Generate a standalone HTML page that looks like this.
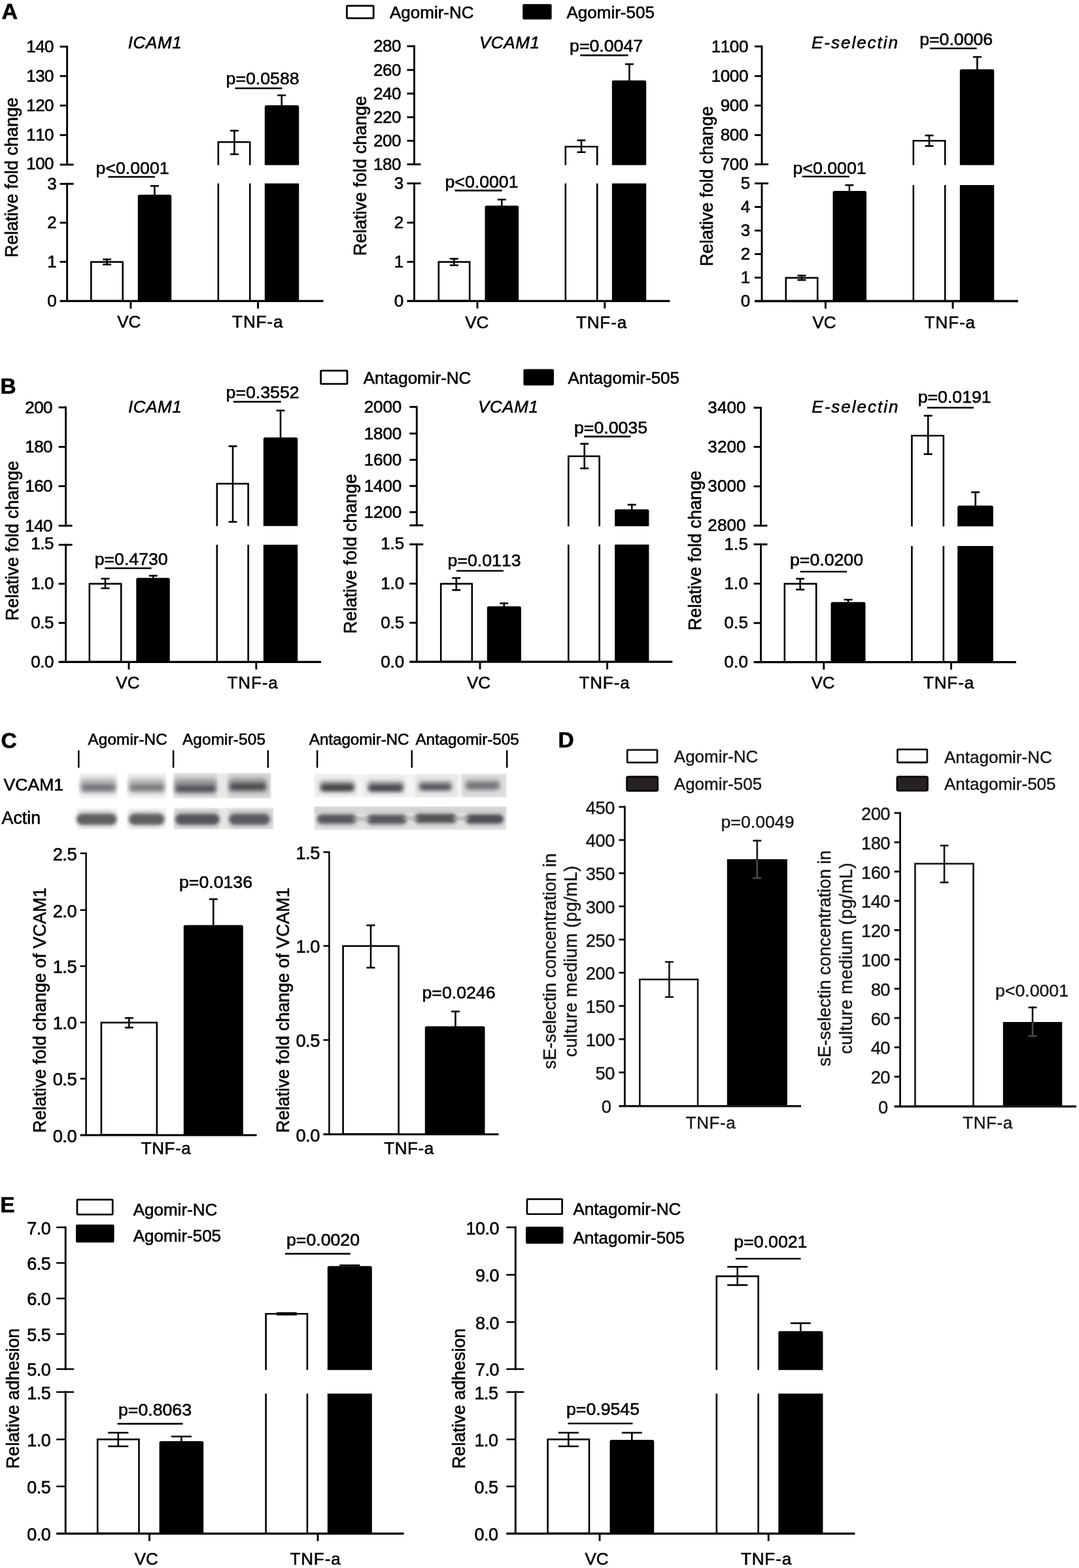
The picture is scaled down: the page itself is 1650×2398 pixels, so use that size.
<!DOCTYPE html>
<html lang="en"><head><meta charset="utf-8"><title>Figure</title>
<style>
html,body{margin:0;padding:0;background:#fff}
body{width:1650px;height:2398px;overflow:hidden}
svg{display:block;font-family:"Liberation Sans",sans-serif;fill:#000}
text{stroke:#000;stroke-width:.6px;font-kerning:none}
text.g{fill:#151515;stroke:#151515;stroke-width:.4px}
</style></head><body>
<svg width="1650" height="2398" viewBox="0 0 1650 2398">
<rect width="1650" height="2398" fill="#fff"/>
<text x="2.5" y="29.3" font-size="34" font-weight="bold">A</text>
<text x="0.5" y="601.5" font-size="33.5" font-weight="bold">B</text>
<text x="1.6" y="1143.6" font-size="33.5" font-weight="bold">C</text>
<text x="853.6" y="1142.5" font-size="33.5" font-weight="bold">D</text>
<text x="0.3" y="1854" font-size="33.5" font-weight="bold">E</text>
<rect x="530.4" y="8.8" width="40.8" height="19" fill="#fff" stroke="#000" stroke-width="2.8" rx="1"/>
<text x="596" y="27.5" font-size="26">Agomir-NC</text>
<rect x="799.2" y="6.2" width="44.4" height="23.6" fill="#000" rx="2"/>
<text x="866.5" y="27.5" font-size="26">Agomir-505</text>
<rect x="139.3" y="400.6" width="48.4" height="59.5" fill="#fff" stroke="#000" stroke-width="2.6"/>
<path d="M210.8 460.4V300.4Q210.8 297.8 213.4 297.8H259.6Q262.2 297.8 262.2 300.4V460.4Z" fill="#000"/>
<path d="M333.8 252.5V217.3H382.2V252.5" fill="none" stroke="#000" stroke-width="2.6"/>
<line x1="333.8" y1="280.5" x2="333.8" y2="460.4" stroke="#000" stroke-width="2.6"/>
<line x1="382.2" y1="280.5" x2="382.2" y2="460.4" stroke="#000" stroke-width="2.6"/>
<path d="M404.8 252.5V163.6Q404.8 161 407.4 161H454.6Q457.2 161 457.2 163.6V252.5Z" fill="#000"/>
<rect x="404.8" y="280.5" width="52.4" height="179.9" fill="#000"/>
<line x1="163.6" y1="395.6" x2="163.6" y2="405.6" stroke="#000" stroke-width="2.6"/>
<line x1="157.1" y1="396.7" x2="170.1" y2="396.7" stroke="#000" stroke-width="2.6"/>
<line x1="157.1" y1="404.5" x2="170.1" y2="404.5" stroke="#000" stroke-width="2.6"/>
<line x1="236.4" y1="283.3" x2="236.4" y2="300" stroke="#000" stroke-width="2.6"/>
<line x1="229.9" y1="284.4" x2="242.9" y2="284.4" stroke="#000" stroke-width="2.6"/>
<line x1="358.4" y1="198.8" x2="358.4" y2="237" stroke="#000" stroke-width="2.6"/>
<line x1="351.9" y1="199.9" x2="364.9" y2="199.9" stroke="#000" stroke-width="2.6"/>
<line x1="351.9" y1="235.9" x2="364.9" y2="235.9" stroke="#000" stroke-width="2.6"/>
<line x1="430.7" y1="144.7" x2="430.7" y2="162" stroke="#000" stroke-width="2.6"/>
<line x1="424.2" y1="145.8" x2="437.2" y2="145.8" stroke="#000" stroke-width="2.6"/>
<line x1="102.6" y1="69.85" x2="102.6" y2="253.25" stroke="#000" stroke-width="2.9"/>
<line x1="102.6" y1="279.75" x2="102.6" y2="461.85" stroke="#000" stroke-width="2.9"/>
<line x1="91.6" y1="460.4" x2="494.5" y2="460.4" stroke="#000" stroke-width="3.3"/>
<line x1="91.6" y1="71.3" x2="102.6" y2="71.3" stroke="#000" stroke-width="2.9"/>
<text x="82.1" y="79.81" font-size="26" text-anchor="end" letter-spacing="-0.5">140</text>
<line x1="91.6" y1="116.3" x2="102.6" y2="116.3" stroke="#000" stroke-width="2.9"/>
<text x="82.1" y="124.81" font-size="26" text-anchor="end" letter-spacing="-0.5">130</text>
<line x1="91.6" y1="161.4" x2="102.6" y2="161.4" stroke="#000" stroke-width="2.9"/>
<text x="82.1" y="169.91" font-size="26" text-anchor="end" letter-spacing="-0.5">120</text>
<line x1="91.6" y1="206.6" x2="102.6" y2="206.6" stroke="#000" stroke-width="2.9"/>
<text x="82.1" y="215.11" font-size="26" text-anchor="end" letter-spacing="-0.5">110</text>
<line x1="91.6" y1="251.8" x2="112.6" y2="251.8" stroke="#000" stroke-width="2.9"/>
<text x="82.1" y="258.81" font-size="26" text-anchor="end" letter-spacing="-0.5">100</text>
<line x1="91.6" y1="281.2" x2="112.6" y2="281.2" stroke="#000" stroke-width="2.9"/>
<text x="86.1" y="289.71" font-size="26" text-anchor="end" letter-spacing="-0.5">3</text>
<line x1="91.6" y1="340.6" x2="102.6" y2="340.6" stroke="#000" stroke-width="2.9"/>
<text x="86.1" y="349.11" font-size="26" text-anchor="end" letter-spacing="-0.5">2</text>
<line x1="91.6" y1="400.4" x2="102.6" y2="400.4" stroke="#000" stroke-width="2.9"/>
<text x="86.1" y="408.91" font-size="26" text-anchor="end" letter-spacing="-0.5">1</text>
<text x="86.1" y="468.91" font-size="26" text-anchor="end" letter-spacing="-0.5">0</text>
<line x1="199.9" y1="460.4" x2="199.9" y2="471.9" stroke="#000" stroke-width="2.9"/>
<line x1="394.5" y1="460.4" x2="394.5" y2="471.9" stroke="#000" stroke-width="2.9"/>
<text x="202.6" y="266.2" font-size="26.7" text-anchor="middle">p&lt;0.0001</text>
<line x1="165.4" y1="270.5" x2="237" y2="270.5" stroke="#000" stroke-width="2.6"/>
<text x="401.6" y="129.2" font-size="26.7" text-anchor="middle">p=0.0588</text>
<line x1="359.4" y1="135" x2="431.4" y2="135" stroke="#000" stroke-width="2.6"/>
<text x="197.3" y="501.3" font-size="26" text-anchor="middle">VC</text>
<text x="394.2" y="501.3" font-size="26" text-anchor="middle" letter-spacing="0.9">TNF-a</text>
<text x="237" y="73.7" font-size="26" text-anchor="middle" font-style="italic" letter-spacing="0.6">ICAM1</text>
<text transform="translate(26.8 271.4) rotate(-90)" font-size="27" text-anchor="middle">Relative fold change</text>
<rect x="670.8" y="400.6" width="47.4" height="59.4" fill="#fff" stroke="#000" stroke-width="2.6"/>
<path d="M741.5 460.3V317.1Q741.5 314.5 744.1 314.5H790.6Q793.2 314.5 793.2 317.1V460.3Z" fill="#000"/>
<path d="M864.8 252.5V224.3H913.2V252.5" fill="none" stroke="#000" stroke-width="2.6"/>
<line x1="864.8" y1="280.5" x2="864.8" y2="460.3" stroke="#000" stroke-width="2.6"/>
<line x1="913.2" y1="280.5" x2="913.2" y2="460.3" stroke="#000" stroke-width="2.6"/>
<path d="M935.8 252.5V125.6Q935.8 123 938.4 123H985.6Q988.2 123 988.2 125.6V252.5Z" fill="#000"/>
<rect x="935.8" y="280.5" width="52.4" height="179.8" fill="#000"/>
<line x1="694.4" y1="394.7" x2="694.4" y2="406.8" stroke="#000" stroke-width="2.6"/>
<line x1="687.9" y1="395.8" x2="700.9" y2="395.8" stroke="#000" stroke-width="2.6"/>
<line x1="687.9" y1="405.7" x2="700.9" y2="405.7" stroke="#000" stroke-width="2.6"/>
<line x1="767.3" y1="304.1" x2="767.3" y2="317" stroke="#000" stroke-width="2.6"/>
<line x1="760.8" y1="305.2" x2="773.8" y2="305.2" stroke="#000" stroke-width="2.6"/>
<line x1="889" y1="213.5" x2="889" y2="233.8" stroke="#000" stroke-width="2.6"/>
<line x1="882.5" y1="214.6" x2="895.5" y2="214.6" stroke="#000" stroke-width="2.6"/>
<line x1="882.5" y1="232.7" x2="895.5" y2="232.7" stroke="#000" stroke-width="2.6"/>
<line x1="962.4" y1="97" x2="962.4" y2="124" stroke="#000" stroke-width="2.6"/>
<line x1="955.9" y1="98.1" x2="968.9" y2="98.1" stroke="#000" stroke-width="2.6"/>
<line x1="633.5" y1="69.25" x2="633.5" y2="252.75" stroke="#000" stroke-width="2.9"/>
<line x1="633.5" y1="279.05" x2="633.5" y2="461.75" stroke="#000" stroke-width="2.9"/>
<line x1="622.5" y1="460.3" x2="1024.4" y2="460.3" stroke="#000" stroke-width="3.3"/>
<line x1="622.5" y1="70.7" x2="633.5" y2="70.7" stroke="#000" stroke-width="2.9"/>
<text x="613" y="79.21" font-size="26" text-anchor="end" letter-spacing="-0.5">280</text>
<line x1="622.5" y1="107" x2="633.5" y2="107" stroke="#000" stroke-width="2.9"/>
<text x="613" y="115.51" font-size="26" text-anchor="end" letter-spacing="-0.5">260</text>
<line x1="622.5" y1="143.1" x2="633.5" y2="143.1" stroke="#000" stroke-width="2.9"/>
<text x="613" y="151.61" font-size="26" text-anchor="end" letter-spacing="-0.5">240</text>
<line x1="622.5" y1="179.2" x2="633.5" y2="179.2" stroke="#000" stroke-width="2.9"/>
<text x="613" y="187.71" font-size="26" text-anchor="end" letter-spacing="-0.5">220</text>
<line x1="622.5" y1="215.3" x2="633.5" y2="215.3" stroke="#000" stroke-width="2.9"/>
<text x="613" y="223.81" font-size="26" text-anchor="end" letter-spacing="-0.5">200</text>
<line x1="622.5" y1="251.3" x2="643.5" y2="251.3" stroke="#000" stroke-width="2.9"/>
<text x="613" y="259.81" font-size="26" text-anchor="end" letter-spacing="-0.5">180</text>
<line x1="622.5" y1="280.5" x2="643.5" y2="280.5" stroke="#000" stroke-width="2.9"/>
<text x="616.7" y="289.01" font-size="26" text-anchor="end" letter-spacing="-0.5">3</text>
<line x1="622.5" y1="340.5" x2="633.5" y2="340.5" stroke="#000" stroke-width="2.9"/>
<text x="616.7" y="349.01" font-size="26" text-anchor="end" letter-spacing="-0.5">2</text>
<line x1="622.5" y1="400.4" x2="633.5" y2="400.4" stroke="#000" stroke-width="2.9"/>
<text x="616.7" y="408.91" font-size="26" text-anchor="end" letter-spacing="-0.5">1</text>
<text x="616.7" y="468.81" font-size="26" text-anchor="end" letter-spacing="-0.5">0</text>
<line x1="730" y1="460.3" x2="730" y2="471.8" stroke="#000" stroke-width="2.9"/>
<line x1="924.8" y1="460.3" x2="924.8" y2="471.8" stroke="#000" stroke-width="2.9"/>
<text x="736.5" y="286.8" font-size="26.7" text-anchor="middle">p&lt;0.0001</text>
<line x1="695.5" y1="291.4" x2="767.7" y2="291.4" stroke="#000" stroke-width="2.6"/>
<text x="927.1" y="79" font-size="26.7" text-anchor="middle">p=0.0047</text>
<line x1="887.2" y1="84.6" x2="960.5" y2="84.6" stroke="#000" stroke-width="2.6"/>
<text x="729.3" y="501.9" font-size="26" text-anchor="middle">VC</text>
<text x="920" y="501.9" font-size="26" text-anchor="middle" letter-spacing="0.9">TNF-a</text>
<text x="779.2" y="74" font-size="26" text-anchor="middle" font-style="italic" letter-spacing="0.6">VCAM1</text>
<text transform="translate(559.5 269) rotate(-90)" font-size="27" text-anchor="middle">Relative fold change</text>
<rect x="1201.8" y="424.9" width="48.4" height="35.3" fill="#fff" stroke="#000" stroke-width="2.6"/>
<path d="M1273.5 460.5V294.6Q1273.5 292 1276.1 292H1322.4Q1325 292 1325 294.6V460.5Z" fill="#000"/>
<path d="M1396.8 252.4V215.3H1445.2V252.4" fill="none" stroke="#000" stroke-width="2.6"/>
<line x1="1396.8" y1="283" x2="1396.8" y2="460.5" stroke="#000" stroke-width="2.6"/>
<line x1="1445.2" y1="283" x2="1445.2" y2="460.5" stroke="#000" stroke-width="2.6"/>
<path d="M1467.8 252.4V108.6Q1467.8 106 1470.4 106H1517.6Q1520.2 106 1520.2 108.6V252.4Z" fill="#000"/>
<rect x="1467.8" y="283" width="52.4" height="177.5" fill="#000"/>
<line x1="1226" y1="420.3" x2="1226" y2="429.3" stroke="#000" stroke-width="2.6"/>
<line x1="1219.5" y1="421.4" x2="1232.5" y2="421.4" stroke="#000" stroke-width="2.6"/>
<line x1="1219.5" y1="428.2" x2="1232.5" y2="428.2" stroke="#000" stroke-width="2.6"/>
<line x1="1298.9" y1="282" x2="1298.9" y2="294" stroke="#000" stroke-width="2.6"/>
<line x1="1292.4" y1="283.1" x2="1305.4" y2="283.1" stroke="#000" stroke-width="2.6"/>
<line x1="1421" y1="206" x2="1421" y2="224.4" stroke="#000" stroke-width="2.6"/>
<line x1="1414.5" y1="207.1" x2="1427.5" y2="207.1" stroke="#000" stroke-width="2.6"/>
<line x1="1414.5" y1="223.3" x2="1427.5" y2="223.3" stroke="#000" stroke-width="2.6"/>
<line x1="1494.4" y1="86" x2="1494.4" y2="107" stroke="#000" stroke-width="2.6"/>
<line x1="1487.9" y1="87.1" x2="1500.9" y2="87.1" stroke="#000" stroke-width="2.6"/>
<line x1="1165" y1="69.55" x2="1165" y2="252.75" stroke="#000" stroke-width="2.9"/>
<line x1="1165" y1="279.05" x2="1165" y2="461.95" stroke="#000" stroke-width="2.9"/>
<line x1="1154" y1="460.5" x2="1556.8" y2="460.5" stroke="#000" stroke-width="3.3"/>
<line x1="1154" y1="71" x2="1165" y2="71" stroke="#000" stroke-width="2.9"/>
<text x="1144" y="79.51" font-size="26" text-anchor="end" letter-spacing="-0.4">1100</text>
<line x1="1154" y1="116.3" x2="1165" y2="116.3" stroke="#000" stroke-width="2.9"/>
<text x="1144" y="124.81" font-size="26" text-anchor="end" letter-spacing="-0.4">1000</text>
<line x1="1154" y1="161.4" x2="1165" y2="161.4" stroke="#000" stroke-width="2.9"/>
<text x="1144" y="169.91" font-size="26" text-anchor="end" letter-spacing="-0.4">900</text>
<line x1="1154" y1="206.6" x2="1165" y2="206.6" stroke="#000" stroke-width="2.9"/>
<text x="1144" y="215.11" font-size="26" text-anchor="end" letter-spacing="-0.4">800</text>
<line x1="1154" y1="251.3" x2="1175" y2="251.3" stroke="#000" stroke-width="2.9"/>
<text x="1144" y="259.81" font-size="26" text-anchor="end" letter-spacing="-0.4">700</text>
<line x1="1154" y1="280.5" x2="1175" y2="280.5" stroke="#000" stroke-width="2.9"/>
<text x="1146.7" y="289.01" font-size="26" text-anchor="end" letter-spacing="-0.4">5</text>
<line x1="1154" y1="316.5" x2="1165" y2="316.5" stroke="#000" stroke-width="2.9"/>
<text x="1146.7" y="325.01" font-size="26" text-anchor="end" letter-spacing="-0.4">4</text>
<line x1="1154" y1="352.6" x2="1165" y2="352.6" stroke="#000" stroke-width="2.9"/>
<text x="1146.7" y="361.11" font-size="26" text-anchor="end" letter-spacing="-0.4">3</text>
<line x1="1154" y1="388.6" x2="1165" y2="388.6" stroke="#000" stroke-width="2.9"/>
<text x="1146.7" y="397.11" font-size="26" text-anchor="end" letter-spacing="-0.4">2</text>
<line x1="1154" y1="424.6" x2="1165" y2="424.6" stroke="#000" stroke-width="2.9"/>
<text x="1146.7" y="433.11" font-size="26" text-anchor="end" letter-spacing="-0.4">1</text>
<text x="1146.7" y="469.01" font-size="26" text-anchor="end" letter-spacing="-0.4">0</text>
<line x1="1262.4" y1="460.5" x2="1262.4" y2="472" stroke="#000" stroke-width="2.9"/>
<line x1="1457" y1="460.5" x2="1457" y2="472" stroke="#000" stroke-width="2.9"/>
<text x="1268.6" y="265.8" font-size="26.7" text-anchor="middle">p&lt;0.0001</text>
<line x1="1226.7" y1="270" x2="1298.9" y2="270" stroke="#000" stroke-width="2.6"/>
<text x="1462.2" y="68.8" font-size="26.7" text-anchor="middle">p=0.0006</text>
<line x1="1422.2" y1="74" x2="1493.6" y2="74" stroke="#000" stroke-width="2.6"/>
<text x="1260.5" y="501.9" font-size="26" text-anchor="middle">VC</text>
<text x="1452.8" y="501.9" font-size="26" text-anchor="middle" letter-spacing="0.9">TNF-a</text>
<text x="1308" y="74" font-size="26" text-anchor="middle" font-style="italic" letter-spacing="2">E-selectin</text>
<text transform="translate(1089.8 284.8) rotate(-90)" font-size="27" text-anchor="middle">Relative fold change</text>
<rect x="490.6" y="566.8" width="40.4" height="20.4" fill="#fff" stroke="#000" stroke-width="2.8" rx="1"/>
<text x="555.7" y="587" font-size="26">Antagomir-NC</text>
<rect x="800.4" y="564.4" width="46.6" height="25.2" fill="#000" rx="2"/>
<text x="868.5" y="587" font-size="26">Antagomir-505</text>
<rect x="136.8" y="892.8" width="48.4" height="119.3" fill="#fff" stroke="#000" stroke-width="2.6"/>
<path d="M208.3 1012.4V886.3Q208.3 883.7 210.9 883.7H257.1Q259.7 883.7 259.7 886.3V1012.4Z" fill="#000"/>
<path d="M331.8 804.5V739.8H379.6V804.5" fill="none" stroke="#000" stroke-width="2.6"/>
<line x1="331.8" y1="833.1" x2="331.8" y2="1012.4" stroke="#000" stroke-width="2.6"/>
<line x1="379.6" y1="833.1" x2="379.6" y2="1012.4" stroke="#000" stroke-width="2.6"/>
<path d="M402.8 804.5V671.6Q402.8 669 405.4 669H452.6Q455.2 669 455.2 671.6V804.5Z" fill="#000"/>
<rect x="402.8" y="833.1" width="52.4" height="179.3" fill="#000"/>
<line x1="161" y1="883.9" x2="161" y2="900.8" stroke="#000" stroke-width="2.6"/>
<line x1="154.5" y1="885" x2="167.5" y2="885" stroke="#000" stroke-width="2.6"/>
<line x1="154.5" y1="899.7" x2="167.5" y2="899.7" stroke="#000" stroke-width="2.6"/>
<line x1="234.3" y1="879.4" x2="234.3" y2="886" stroke="#000" stroke-width="2.6"/>
<line x1="227.8" y1="880.5" x2="240.8" y2="880.5" stroke="#000" stroke-width="2.6"/>
<line x1="356" y1="681.3" x2="356" y2="799.2" stroke="#000" stroke-width="2.6"/>
<line x1="349.5" y1="682.4" x2="362.5" y2="682.4" stroke="#000" stroke-width="2.6"/>
<line x1="349.5" y1="798.1" x2="362.5" y2="798.1" stroke="#000" stroke-width="2.6"/>
<line x1="429" y1="626.8" x2="429" y2="670" stroke="#000" stroke-width="2.6"/>
<line x1="422.5" y1="627.9" x2="435.5" y2="627.9" stroke="#000" stroke-width="2.6"/>
<line x1="100.6" y1="621.55" x2="100.6" y2="805.45" stroke="#000" stroke-width="2.9"/>
<line x1="100.6" y1="831.75" x2="100.6" y2="1013.85" stroke="#000" stroke-width="2.9"/>
<line x1="89.6" y1="1012.4" x2="491" y2="1012.4" stroke="#000" stroke-width="3.3"/>
<line x1="89.6" y1="623" x2="100.6" y2="623" stroke="#000" stroke-width="2.9"/>
<text x="80.1" y="631.51" font-size="26" text-anchor="end" letter-spacing="-0.5">200</text>
<line x1="89.6" y1="683.4" x2="100.6" y2="683.4" stroke="#000" stroke-width="2.9"/>
<text x="80.1" y="691.91" font-size="26" text-anchor="end" letter-spacing="-0.5">180</text>
<line x1="89.6" y1="743.5" x2="100.6" y2="743.5" stroke="#000" stroke-width="2.9"/>
<text x="80.1" y="752.01" font-size="26" text-anchor="end" letter-spacing="-0.5">160</text>
<line x1="89.6" y1="804" x2="110.6" y2="804" stroke="#000" stroke-width="2.9"/>
<text x="80.1" y="812.51" font-size="26" text-anchor="end" letter-spacing="-0.5">140</text>
<line x1="89.6" y1="833.2" x2="110.6" y2="833.2" stroke="#000" stroke-width="2.9"/>
<text x="81.9" y="839.91" font-size="26" text-anchor="end" letter-spacing="-0.5">1.5</text>
<line x1="89.6" y1="892.8" x2="100.6" y2="892.8" stroke="#000" stroke-width="2.9"/>
<text x="81.9" y="901.31" font-size="26" text-anchor="end" letter-spacing="-0.5">1.0</text>
<line x1="89.6" y1="952.6" x2="100.6" y2="952.6" stroke="#000" stroke-width="2.9"/>
<text x="81.9" y="961.11" font-size="26" text-anchor="end" letter-spacing="-0.5">0.5</text>
<text x="81.9" y="1020.91" font-size="26" text-anchor="end" letter-spacing="-0.5">0.0</text>
<line x1="197" y1="1012.4" x2="197" y2="1023.9" stroke="#000" stroke-width="2.9"/>
<line x1="391.8" y1="1012.4" x2="391.8" y2="1023.9" stroke="#000" stroke-width="2.9"/>
<text x="200.7" y="864" font-size="26.7" text-anchor="middle">p=0.4730</text>
<line x1="160.2" y1="869" x2="231.6" y2="869" stroke="#000" stroke-width="2.6"/>
<text x="401.6" y="609" font-size="26.7" text-anchor="middle">p=0.3552</text>
<line x1="356.7" y1="614.4" x2="429.7" y2="614.4" stroke="#000" stroke-width="2.6"/>
<text x="195.4" y="1053.4" font-size="26" text-anchor="middle">VC</text>
<text x="386.6" y="1053.4" font-size="26" text-anchor="middle" letter-spacing="0.9">TNF-a</text>
<text x="237.2" y="631.3" font-size="26" text-anchor="middle" font-style="italic" letter-spacing="0.6">ICAM1</text>
<text transform="translate(28 827) rotate(-90)" font-size="27" text-anchor="middle">Relative fold change</text>
<rect x="674.2" y="892.8" width="47.6" height="119.1" fill="#fff" stroke="#000" stroke-width="2.6"/>
<path d="M744.8 1012.2V929.8Q744.8 927.2 747.4 927.2H794.3Q796.9 927.2 796.9 929.8V1012.2Z" fill="#000"/>
<path d="M869.3 804.8V697.8H916.6V804.8" fill="none" stroke="#000" stroke-width="2.6"/>
<line x1="869.3" y1="832.8" x2="869.3" y2="1012.2" stroke="#000" stroke-width="2.6"/>
<line x1="916.6" y1="832.8" x2="916.6" y2="1012.2" stroke="#000" stroke-width="2.6"/>
<path d="M940.1 804.8V781.6Q940.1 779 942.7 779H989.8Q992.4 779 992.4 781.6V804.8Z" fill="#000"/>
<rect x="940.1" y="832.8" width="52.3" height="179.4" fill="#000"/>
<line x1="697.8" y1="882.9" x2="697.8" y2="903.5" stroke="#000" stroke-width="2.6"/>
<line x1="691.3" y1="884" x2="704.3" y2="884" stroke="#000" stroke-width="2.6"/>
<line x1="691.3" y1="902.4" x2="704.3" y2="902.4" stroke="#000" stroke-width="2.6"/>
<line x1="770.8" y1="921.6" x2="770.8" y2="928" stroke="#000" stroke-width="2.6"/>
<line x1="764.3" y1="922.7" x2="777.3" y2="922.7" stroke="#000" stroke-width="2.6"/>
<line x1="893.7" y1="677.6" x2="893.7" y2="717.4" stroke="#000" stroke-width="2.6"/>
<line x1="887.2" y1="678.7" x2="900.2" y2="678.7" stroke="#000" stroke-width="2.6"/>
<line x1="887.2" y1="716.3" x2="900.2" y2="716.3" stroke="#000" stroke-width="2.6"/>
<line x1="966.2" y1="770.8" x2="966.2" y2="781" stroke="#000" stroke-width="2.6"/>
<line x1="959.7" y1="771.9" x2="972.7" y2="771.9" stroke="#000" stroke-width="2.6"/>
<line x1="637.3" y1="620.85" x2="637.3" y2="804.85" stroke="#000" stroke-width="2.9"/>
<line x1="637.3" y1="831.05" x2="637.3" y2="1013.65" stroke="#000" stroke-width="2.9"/>
<line x1="626.3" y1="1012.2" x2="1028.3" y2="1012.2" stroke="#000" stroke-width="3.3"/>
<line x1="626.3" y1="622.3" x2="637.3" y2="622.3" stroke="#000" stroke-width="2.9"/>
<text x="614.2" y="630.81" font-size="26" text-anchor="end" letter-spacing="-0.1">2000</text>
<line x1="626.3" y1="663" x2="637.3" y2="663" stroke="#000" stroke-width="2.9"/>
<text x="614.2" y="671.51" font-size="26" text-anchor="end" letter-spacing="-0.1">1800</text>
<line x1="626.3" y1="703.2" x2="637.3" y2="703.2" stroke="#000" stroke-width="2.9"/>
<text x="614.2" y="711.71" font-size="26" text-anchor="end" letter-spacing="-0.1">1600</text>
<line x1="626.3" y1="743.2" x2="637.3" y2="743.2" stroke="#000" stroke-width="2.9"/>
<text x="614.2" y="751.71" font-size="26" text-anchor="end" letter-spacing="-0.1">1400</text>
<line x1="626.3" y1="783.2" x2="637.3" y2="783.2" stroke="#000" stroke-width="2.9"/>
<text x="614.2" y="791.71" font-size="26" text-anchor="end" letter-spacing="-0.1">1200</text>
<line x1="626.3" y1="803.4" x2="647.3" y2="803.4" stroke="#000" stroke-width="2.9"/>
<line x1="626.3" y1="832.5" x2="647.3" y2="832.5" stroke="#000" stroke-width="2.9"/>
<text x="618" y="839.61" font-size="26" text-anchor="end" letter-spacing="-0.1">1.5</text>
<line x1="626.3" y1="892.6" x2="637.3" y2="892.6" stroke="#000" stroke-width="2.9"/>
<text x="618" y="901.11" font-size="26" text-anchor="end" letter-spacing="-0.1">1.0</text>
<line x1="626.3" y1="952.4" x2="637.3" y2="952.4" stroke="#000" stroke-width="2.9"/>
<text x="618" y="960.91" font-size="26" text-anchor="end" letter-spacing="-0.1">0.5</text>
<text x="618" y="1020.71" font-size="26" text-anchor="end" letter-spacing="-0.1">0.0</text>
<line x1="734" y1="1012.2" x2="734" y2="1023.7" stroke="#000" stroke-width="2.9"/>
<line x1="928.6" y1="1012.2" x2="928.6" y2="1023.7" stroke="#000" stroke-width="2.9"/>
<text x="740.6" y="866.2" font-size="26.7" text-anchor="middle">p=0.0113</text>
<line x1="698" y1="873" x2="770" y2="873" stroke="#000" stroke-width="2.6"/>
<text x="934" y="662.8" font-size="26.7" text-anchor="middle">p=0.0035</text>
<line x1="893" y1="667.6" x2="964.4" y2="667.6" stroke="#000" stroke-width="2.6"/>
<text x="732" y="1053.2" font-size="26" text-anchor="middle">VC</text>
<text x="924.5" y="1053.2" font-size="26" text-anchor="middle" letter-spacing="0.9">TNF-a</text>
<text x="777.3" y="631.4" font-size="26" text-anchor="middle" font-style="italic" letter-spacing="0.6">VCAM1</text>
<text transform="translate(545 847) rotate(-90)" font-size="27" text-anchor="middle">Relative fold change</text>
<rect x="1199.8" y="892.8" width="48.4" height="119.5" fill="#fff" stroke="#000" stroke-width="2.6"/>
<path d="M1270.5 1012.6V923.4Q1270.5 920.8 1273.1 920.8H1320.9Q1323.5 920.8 1323.5 923.4V1012.6Z" fill="#000"/>
<path d="M1394.4 804.9V666.3H1442.8V804.9" fill="none" stroke="#000" stroke-width="2.6"/>
<line x1="1394.4" y1="835" x2="1394.4" y2="1012.6" stroke="#000" stroke-width="2.6"/>
<line x1="1442.8" y1="835" x2="1442.8" y2="1012.6" stroke="#000" stroke-width="2.6"/>
<path d="M1464.2 804.9V775.8Q1464.2 773.2 1466.8 773.2H1516.2Q1518.8 773.2 1518.8 775.8V804.9Z" fill="#000"/>
<rect x="1464.2" y="835" width="54.6" height="177.6" fill="#000"/>
<line x1="1223.7" y1="884" x2="1223.7" y2="902.8" stroke="#000" stroke-width="2.6"/>
<line x1="1217.2" y1="885.1" x2="1230.2" y2="885.1" stroke="#000" stroke-width="2.6"/>
<line x1="1217.2" y1="901.7" x2="1230.2" y2="901.7" stroke="#000" stroke-width="2.6"/>
<line x1="1297" y1="916" x2="1297" y2="922" stroke="#000" stroke-width="2.6"/>
<line x1="1290.5" y1="917.1" x2="1303.5" y2="917.1" stroke="#000" stroke-width="2.6"/>
<line x1="1419.2" y1="634.7" x2="1419.2" y2="695.6" stroke="#000" stroke-width="2.6"/>
<line x1="1412.7" y1="635.8" x2="1425.7" y2="635.8" stroke="#000" stroke-width="2.6"/>
<line x1="1412.7" y1="694.5" x2="1425.7" y2="694.5" stroke="#000" stroke-width="2.6"/>
<line x1="1491.7" y1="751.7" x2="1491.7" y2="776" stroke="#000" stroke-width="2.6"/>
<line x1="1485.2" y1="752.8" x2="1498.2" y2="752.8" stroke="#000" stroke-width="2.6"/>
<line x1="1163.5" y1="622.05" x2="1163.5" y2="805.35" stroke="#000" stroke-width="2.9"/>
<line x1="1163.5" y1="831.05" x2="1163.5" y2="1014.05" stroke="#000" stroke-width="2.9"/>
<line x1="1152.5" y1="1012.6" x2="1553.8" y2="1012.6" stroke="#000" stroke-width="3.3"/>
<line x1="1152.5" y1="623.5" x2="1163.5" y2="623.5" stroke="#000" stroke-width="2.9"/>
<text x="1140.6" y="632.01" font-size="26" text-anchor="end" letter-spacing="0.1">3400</text>
<line x1="1152.5" y1="683.4" x2="1163.5" y2="683.4" stroke="#000" stroke-width="2.9"/>
<text x="1140.6" y="691.91" font-size="26" text-anchor="end" letter-spacing="0.1">3200</text>
<line x1="1152.5" y1="743.8" x2="1163.5" y2="743.8" stroke="#000" stroke-width="2.9"/>
<text x="1140.6" y="752.31" font-size="26" text-anchor="end" letter-spacing="0.1">3000</text>
<line x1="1152.5" y1="803.9" x2="1173.5" y2="803.9" stroke="#000" stroke-width="2.9"/>
<text x="1140.6" y="812.41" font-size="26" text-anchor="end" letter-spacing="0.1">2800</text>
<line x1="1152.5" y1="832.5" x2="1173.5" y2="832.5" stroke="#000" stroke-width="2.9"/>
<text x="1144" y="841.01" font-size="26" text-anchor="end" letter-spacing="0.1">1.5</text>
<line x1="1152.5" y1="892.6" x2="1163.5" y2="892.6" stroke="#000" stroke-width="2.9"/>
<text x="1144" y="901.11" font-size="26" text-anchor="end" letter-spacing="0.1">1.0</text>
<line x1="1152.5" y1="952.8" x2="1163.5" y2="952.8" stroke="#000" stroke-width="2.9"/>
<text x="1144" y="961.31" font-size="26" text-anchor="end" letter-spacing="0.1">0.5</text>
<text x="1144" y="1021.11" font-size="26" text-anchor="end" letter-spacing="0.1">0.0</text>
<line x1="1259.8" y1="1012.6" x2="1259.8" y2="1024.1" stroke="#000" stroke-width="2.9"/>
<line x1="1454.5" y1="1012.6" x2="1454.5" y2="1024.1" stroke="#000" stroke-width="2.9"/>
<text x="1264" y="865.2" font-size="26.7" text-anchor="middle">p=0.0200</text>
<line x1="1223.7" y1="874.2" x2="1295" y2="874.2" stroke="#000" stroke-width="2.6"/>
<text x="1459.7" y="616.3" font-size="26.7" text-anchor="middle">p=0.0191</text>
<line x1="1417.7" y1="623.5" x2="1489" y2="623.5" stroke="#000" stroke-width="2.6"/>
<text x="1258.6" y="1053.2" font-size="26" text-anchor="middle">VC</text>
<text x="1451" y="1053.2" font-size="26" text-anchor="middle" letter-spacing="0.9">TNF-a</text>
<text x="1308.4" y="631.4" font-size="26" text-anchor="middle" font-style="italic" letter-spacing="2">E-selectin</text>
<text transform="translate(1072 842) rotate(-90)" font-size="27" text-anchor="middle">Relative fold change</text>
<defs><filter id="b3" x="-30%" y="-80%" width="160%" height="260%"><feGaussianBlur stdDeviation="3 3.4"/></filter><filter id="b2" x="-30%" y="-80%" width="160%" height="260%"><feGaussianBlur stdDeviation="2.4 2"/></filter><filter id="b1" x="-10%" y="-30%" width="120%" height="160%"><feGaussianBlur stdDeviation="1.2"/></filter></defs>
<text x="134.4" y="1139.3" font-size="24.3" letter-spacing="0.15">Agomir-NC</text>
<text x="279" y="1139.3" font-size="24.3" letter-spacing="0.15">Agomir-505</text>
<text x="472.8" y="1139.3" font-size="24.3" letter-spacing="-0.1">Antagomir-NC</text>
<text x="635.5" y="1139.3" font-size="24.3" letter-spacing="-0.1">Antagomir-505</text>
<text x="5.5" y="1209.4" font-size="26.6">VCAM1</text>
<text x="2.6" y="1260.2" font-size="26.8">Actin</text>
<line x1="120.3" y1="1147.4" x2="120.3" y2="1174.2" stroke="#000" stroke-width="2.5"/>
<line x1="265.1" y1="1147.4" x2="265.1" y2="1174.2" stroke="#000" stroke-width="2.5"/>
<line x1="409.8" y1="1147.4" x2="409.8" y2="1174.2" stroke="#000" stroke-width="2.5"/>
<line x1="485.1" y1="1147.4" x2="485.1" y2="1174.2" stroke="#000" stroke-width="2.5"/>
<line x1="629.8" y1="1147.4" x2="629.8" y2="1174.2" stroke="#000" stroke-width="2.5"/>
<line x1="775.2" y1="1147.4" x2="775.2" y2="1174.2" stroke="#000" stroke-width="2.5"/>
<rect x="121.5" y="1182.5" width="57.5" height="38" fill="#efefef" filter="url(#b1)"/>
<rect x="195" y="1182.5" width="59" height="38" fill="#efefef" filter="url(#b1)"/>
<rect x="265.5" y="1182.5" width="67.5" height="38" fill="#d9d9d9" filter="url(#b1)"/>
<rect x="333" y="1182.5" width="16" height="38" fill="#e8e8e8" filter="url(#b1)"/>
<rect x="348" y="1182.5" width="66" height="38" fill="#d6d6d6" filter="url(#b1)"/>
<rect x="123" y="1190.5" width="54.5" height="22" rx="5" fill="#b4b4b6" filter="url(#b3)"/>
<rect x="125" y="1200" width="50.5" height="9" rx="4" fill="#707074" filter="url(#b3)"/>
<rect x="197" y="1190.5" width="55" height="22" rx="5" fill="#b8b8ba" filter="url(#b3)"/>
<rect x="199" y="1200" width="51" height="9" rx="4" fill="#77777b" filter="url(#b3)"/>
<rect x="267" y="1191" width="64" height="22" rx="5" fill="#9a9a9c" filter="url(#b3)"/>
<rect x="269" y="1201.5" width="60" height="9" rx="4" fill="#4c4c50" filter="url(#b3)"/>
<rect x="350" y="1190" width="58" height="22" rx="5" fill="#98989a" filter="url(#b3)"/>
<rect x="352" y="1198.5" width="54" height="9" rx="4" fill="#434347" filter="url(#b3)"/>
<rect x="118" y="1236" width="61" height="32" fill="#f0f0f0" filter="url(#b1)"/>
<rect x="195" y="1236" width="59" height="32" fill="#f0f0f0" filter="url(#b1)"/>
<rect x="266" y="1236" width="70" height="32" fill="#dadada" filter="url(#b1)"/>
<rect x="336" y="1236" width="14" height="32" fill="#e6e6e6" filter="url(#b1)"/>
<rect x="349" y="1236" width="69" height="32" fill="#d8d8d8" filter="url(#b1)"/>
<rect x="117" y="1242.4" width="61.5" height="20" rx="9" fill="#a4a4a6" filter="url(#b3)"/>
<rect x="118" y="1245.5" width="59.5" height="15" rx="7.5" fill="#606064" filter="url(#b2)"/>
<rect x="197" y="1242.4" width="54.5" height="20" rx="9" fill="#a4a4a6" filter="url(#b3)"/>
<rect x="198" y="1245.5" width="52.5" height="15" rx="7.5" fill="#606064" filter="url(#b2)"/>
<rect x="268" y="1242.4" width="68" height="20" rx="9" fill="#a4a4a6" filter="url(#b3)"/>
<rect x="269" y="1245.5" width="66" height="15" rx="7.5" fill="#56565a" filter="url(#b2)"/>
<rect x="350" y="1242.4" width="63" height="20" rx="9" fill="#a4a4a6" filter="url(#b3)"/>
<rect x="351" y="1245.5" width="61" height="15" rx="7.5" fill="#5c5c60" filter="url(#b2)"/>
<rect x="481" y="1184" width="293" height="35" fill="#f3f3f3" filter="url(#b1)"/>
<rect x="481" y="1184" width="64" height="35" fill="#efefef" filter="url(#b1)"/>
<rect x="556" y="1184" width="64" height="35" fill="#efefef" filter="url(#b1)"/>
<rect x="634" y="1184" width="66" height="35" fill="#e9e9e9" filter="url(#b1)"/>
<rect x="706" y="1184" width="68" height="35" fill="#dcdcdc" filter="url(#b1)"/>
<rect x="489" y="1193.5" width="53.5" height="17" rx="5" fill="#a8a8aa" filter="url(#b3)"/>
<rect x="491" y="1199.5" width="49.5" height="10" rx="4" fill="#3c3c40" filter="url(#b3)"/>
<rect x="562" y="1194" width="55.5" height="17" rx="5" fill="#a8a8aa" filter="url(#b3)"/>
<rect x="564" y="1200" width="51.5" height="10" rx="4" fill="#424246" filter="url(#b3)"/>
<rect x="640" y="1193.5" width="51.5" height="16" rx="5" fill="#b0b0b2" filter="url(#b3)"/>
<rect x="642" y="1199" width="47.5" height="9" rx="4" fill="#505054" filter="url(#b3)"/>
<rect x="711.5" y="1192" width="53" height="17" rx="5" fill="#acacae" filter="url(#b3)"/>
<rect x="713.5" y="1197" width="49" height="9" rx="4" fill="#707074" filter="url(#b3)"/>
<rect x="481" y="1234" width="293" height="35" fill="#e0e0e0" filter="url(#b1)"/>
<rect x="481" y="1234" width="293" height="10" fill="#d6d6d6" filter="url(#b1)"/>
<rect x="485" y="1244.5" width="60" height="17" rx="7" fill="#9a9a9c" filter="url(#b3)"/>
<rect x="486" y="1246.5" width="58" height="12" rx="6" fill="#58585c" filter="url(#b2)"/>
<rect x="561" y="1245" width="61" height="17" rx="7" fill="#9a9a9c" filter="url(#b3)"/>
<rect x="562" y="1247" width="59" height="12" rx="6" fill="#58585c" filter="url(#b2)"/>
<rect x="634" y="1243.5" width="64" height="17" rx="7" fill="#9a9a9c" filter="url(#b3)"/>
<rect x="635" y="1245.5" width="62" height="12" rx="6" fill="#525256" filter="url(#b2)"/>
<rect x="712" y="1244.5" width="58" height="17" rx="7" fill="#9a9a9c" filter="url(#b3)"/>
<rect x="713" y="1246.5" width="56" height="12" rx="6" fill="#4e4e52" filter="url(#b2)"/>
<rect x="539" y="1250.5" width="28" height="4" rx="2" fill="#a8a8a8" filter="url(#b2)"/>
<rect x="616" y="1249.5" width="24" height="4" rx="2" fill="#a8a8a8" filter="url(#b2)"/>
<rect x="692" y="1249.5" width="26" height="4" rx="2" fill="#a8a8a8" filter="url(#b2)"/>
<rect x="154.9" y="1563.9" width="85" height="171.8" fill="#fff" stroke="#000" stroke-width="2.6"/>
<path d="M280.8 1736V1417.3Q280.8 1414.7 283.4 1414.7H369.2Q371.8 1414.7 371.8 1417.3V1736Z" fill="#000"/>
<line x1="197.4" y1="1555.8" x2="197.4" y2="1572.6" stroke="#000" stroke-width="2.6"/>
<line x1="190.9" y1="1556.9" x2="203.9" y2="1556.9" stroke="#000" stroke-width="2.6"/>
<line x1="190.9" y1="1571.5" x2="203.9" y2="1571.5" stroke="#000" stroke-width="2.6"/>
<line x1="326.3" y1="1374" x2="326.3" y2="1416" stroke="#000" stroke-width="2.6"/>
<line x1="319.8" y1="1375.1" x2="332.8" y2="1375.1" stroke="#000" stroke-width="2.6"/>
<line x1="131.6" y1="1303.75" x2="131.6" y2="1737.25" stroke="#000" stroke-width="2.5"/>
<line x1="122.6" y1="1736" x2="392.6" y2="1736" stroke="#000" stroke-width="2.9"/>
<line x1="122.6" y1="1305" x2="131.6" y2="1305" stroke="#000" stroke-width="2.5"/>
<text x="117.1" y="1315.77" font-size="27.3" text-anchor="end" letter-spacing="-0.5">2.5</text>
<line x1="122.6" y1="1391.8" x2="131.6" y2="1391.8" stroke="#000" stroke-width="2.5"/>
<text x="117.1" y="1402.57" font-size="27.3" text-anchor="end" letter-spacing="-0.5">2.0</text>
<line x1="122.6" y1="1477.6" x2="131.6" y2="1477.6" stroke="#000" stroke-width="2.5"/>
<text x="117.1" y="1488.37" font-size="27.3" text-anchor="end" letter-spacing="-0.5">1.5</text>
<line x1="122.6" y1="1563.7" x2="131.6" y2="1563.7" stroke="#000" stroke-width="2.5"/>
<text x="117.1" y="1574.47" font-size="27.3" text-anchor="end" letter-spacing="-0.5">1.0</text>
<line x1="122.6" y1="1649.7" x2="131.6" y2="1649.7" stroke="#000" stroke-width="2.5"/>
<text x="117.1" y="1660.47" font-size="27.3" text-anchor="end" letter-spacing="-0.5">0.5</text>
<text x="117.1" y="1746.77" font-size="27.3" text-anchor="end" letter-spacing="-0.5">0.0</text>
<text x="330" y="1358" font-size="26.7" text-anchor="middle">p=0.0136</text>
<text x="254" y="1765" font-size="26" text-anchor="middle" letter-spacing="0.6">TNF-a</text>
<text transform="translate(69.5 1545) rotate(-90)" font-size="27" text-anchor="middle">Relative fold change of VCAM1</text>
<rect x="524.6" y="1446.8" width="85" height="287.7" fill="#fff" stroke="#000" stroke-width="2.6"/>
<path d="M649.8 1734.8V1572.1Q649.8 1569.5 652.4 1569.5H738.9Q741.5 1569.5 741.5 1572.1V1734.8Z" fill="#000"/>
<line x1="567" y1="1414" x2="567" y2="1481" stroke="#000" stroke-width="2.6"/>
<line x1="560.5" y1="1415.1" x2="573.5" y2="1415.1" stroke="#000" stroke-width="2.6"/>
<line x1="560.5" y1="1479.9" x2="573.5" y2="1479.9" stroke="#000" stroke-width="2.6"/>
<line x1="696.5" y1="1545.8" x2="696.5" y2="1571" stroke="#000" stroke-width="2.6"/>
<line x1="690" y1="1546.9" x2="703" y2="1546.9" stroke="#000" stroke-width="2.6"/>
<line x1="503.4" y1="1301.95" x2="503.4" y2="1736.05" stroke="#000" stroke-width="2.5"/>
<line x1="494.4" y1="1734.8" x2="762.6" y2="1734.8" stroke="#000" stroke-width="2.9"/>
<line x1="494.4" y1="1303.2" x2="503.4" y2="1303.2" stroke="#000" stroke-width="2.5"/>
<text x="488.9" y="1313.97" font-size="27.3" text-anchor="end" letter-spacing="-0.5">1.5</text>
<line x1="494.4" y1="1446.6" x2="503.4" y2="1446.6" stroke="#000" stroke-width="2.5"/>
<text x="488.9" y="1457.37" font-size="27.3" text-anchor="end" letter-spacing="-0.5">1.0</text>
<line x1="494.4" y1="1590.5" x2="503.4" y2="1590.5" stroke="#000" stroke-width="2.5"/>
<text x="488.9" y="1601.27" font-size="27.3" text-anchor="end" letter-spacing="-0.5">0.5</text>
<text x="488.9" y="1745.57" font-size="27.3" text-anchor="end" letter-spacing="-0.5">0.0</text>
<text x="701.5" y="1526.6" font-size="26.7" text-anchor="middle">p=0.0246</text>
<text x="625.6" y="1765" font-size="26" text-anchor="middle" letter-spacing="0.6">TNF-a</text>
<text transform="translate(442 1545) rotate(-90)" font-size="27" text-anchor="middle">Relative fold change of VCAM1</text>
<rect x="959.2" y="1146.8" width="45.8" height="19.4" fill="#fff" stroke="#151515" stroke-width="2.8" rx="1"/>
<text x="1030.8" y="1166.4" font-size="26" class="g">Agomir-NC</text>
<rect x="958.6" y="1187.9" width="47.2" height="21.6" fill="#262223" stroke="#000" stroke-width="2.6" rx="2"/>
<text x="1030.8" y="1208.2" font-size="26" class="g">Agomir-505</text>
<rect x="978.3" y="1497.9" width="88.8" height="193.4" fill="#fff" stroke="#151515" stroke-width="2.6"/>
<rect x="1111.8" y="1314" width="92.1" height="377.6" fill="#000"/>
<line x1="1023.4" y1="1470" x2="1023.4" y2="1525.9" stroke="#151515" stroke-width="2.6"/>
<line x1="1016.9" y1="1471.1" x2="1029.9" y2="1471.1" stroke="#151515" stroke-width="2.6"/>
<line x1="1016.9" y1="1524.8" x2="1029.9" y2="1524.8" stroke="#151515" stroke-width="2.6"/>
<line x1="1157.8" y1="1284.6" x2="1157.8" y2="1315" stroke="#151515" stroke-width="2.6"/>
<line x1="1151.3" y1="1285.7" x2="1164.3" y2="1285.7" stroke="#151515" stroke-width="2.6"/>
<line x1="1157.8" y1="1315" x2="1157.8" y2="1344" stroke="#4a4a4a" stroke-width="2.6"/>
<line x1="1151.3" y1="1342.9" x2="1164.3" y2="1342.9" stroke="#4a4a4a" stroke-width="2.6"/>
<line x1="955.4" y1="1232.55" x2="955.4" y2="1693.05" stroke="#151515" stroke-width="2.9"/>
<line x1="946.4" y1="1691.6" x2="1225" y2="1691.6" stroke="#151515" stroke-width="3.3"/>
<line x1="946.4" y1="1234" x2="955.4" y2="1234" stroke="#151515" stroke-width="2.9"/>
<text x="939.9" y="1244.67" font-size="27.3" text-anchor="end" letter-spacing="-0.5" class="g">450</text>
<line x1="946.4" y1="1284.7" x2="955.4" y2="1284.7" stroke="#151515" stroke-width="2.9"/>
<text x="939.9" y="1295.37" font-size="27.3" text-anchor="end" letter-spacing="-0.5" class="g">400</text>
<line x1="946.4" y1="1335.4" x2="955.4" y2="1335.4" stroke="#151515" stroke-width="2.9"/>
<text x="939.9" y="1346.07" font-size="27.3" text-anchor="end" letter-spacing="-0.5" class="g">350</text>
<line x1="946.4" y1="1386.1" x2="955.4" y2="1386.1" stroke="#151515" stroke-width="2.9"/>
<text x="939.9" y="1396.77" font-size="27.3" text-anchor="end" letter-spacing="-0.5" class="g">300</text>
<line x1="946.4" y1="1436.9" x2="955.4" y2="1436.9" stroke="#151515" stroke-width="2.9"/>
<text x="939.9" y="1447.57" font-size="27.3" text-anchor="end" letter-spacing="-0.5" class="g">250</text>
<line x1="946.4" y1="1487.6" x2="955.4" y2="1487.6" stroke="#151515" stroke-width="2.9"/>
<text x="939.9" y="1498.27" font-size="27.3" text-anchor="end" letter-spacing="-0.5" class="g">200</text>
<line x1="946.4" y1="1538.4" x2="955.4" y2="1538.4" stroke="#151515" stroke-width="2.9"/>
<text x="939.9" y="1549.07" font-size="27.3" text-anchor="end" letter-spacing="-0.5" class="g">150</text>
<line x1="946.4" y1="1589.2" x2="955.4" y2="1589.2" stroke="#151515" stroke-width="2.9"/>
<text x="939.9" y="1599.87" font-size="27.3" text-anchor="end" letter-spacing="-0.5" class="g">100</text>
<line x1="946.4" y1="1640.1" x2="955.4" y2="1640.1" stroke="#151515" stroke-width="2.9"/>
<text x="939.9" y="1650.77" font-size="27.3" text-anchor="end" letter-spacing="-0.5" class="g">50</text>
<text x="934.4" y="1702.27" font-size="27.3" text-anchor="end" letter-spacing="-0.5" class="g">0</text>
<text x="1158.5" y="1265.6" font-size="26.7" text-anchor="middle" class="g">p=0.0049</text>
<text x="1087" y="1726" font-size="26" text-anchor="middle" letter-spacing="0.6" class="g">TNF-a</text>
<text transform="translate(849.5 1470) rotate(-90)" font-size="27" text-anchor="middle" class="g">sE-selectin concentration in</text>
<text transform="translate(882 1470) rotate(-90)" font-size="27" text-anchor="middle" letter-spacing="0.35" class="g">culture medium (pg/mL)</text>
<rect x="1372.4" y="1146.2" width="45.4" height="19.8" fill="#fff" stroke="#151515" stroke-width="2.8" rx="1"/>
<text x="1444" y="1166.6" font-size="26" class="g">Antagomir-NC</text>
<rect x="1371.8" y="1187.7" width="46.7" height="21.6" fill="#262223" stroke="#000" stroke-width="2.6" rx="2"/>
<text x="1444" y="1208.2" font-size="26" class="g">Antagomir-505</text>
<rect x="1399.4" y="1320.9" width="89.1" height="370.9" fill="#fff" stroke="#151515" stroke-width="2.6"/>
<rect x="1533.8" y="1563" width="90.4" height="129.1" fill="#000"/>
<line x1="1444" y1="1292" x2="1444" y2="1350.6" stroke="#151515" stroke-width="2.6"/>
<line x1="1437.5" y1="1293.1" x2="1450.5" y2="1293.1" stroke="#151515" stroke-width="2.6"/>
<line x1="1437.5" y1="1349.5" x2="1450.5" y2="1349.5" stroke="#151515" stroke-width="2.6"/>
<line x1="1579" y1="1539.6" x2="1579" y2="1564" stroke="#151515" stroke-width="2.6"/>
<line x1="1572.5" y1="1540.7" x2="1585.5" y2="1540.7" stroke="#151515" stroke-width="2.6"/>
<line x1="1579" y1="1564" x2="1579" y2="1585.6" stroke="#4a4a4a" stroke-width="2.6"/>
<line x1="1572.5" y1="1584.5" x2="1585.5" y2="1584.5" stroke="#4a4a4a" stroke-width="2.6"/>
<line x1="1376.5" y1="1241.85" x2="1376.5" y2="1693.55" stroke="#151515" stroke-width="2.9"/>
<line x1="1367.5" y1="1692.1" x2="1646" y2="1692.1" stroke="#151515" stroke-width="3.3"/>
<line x1="1367.5" y1="1243.3" x2="1376.5" y2="1243.3" stroke="#151515" stroke-width="2.9"/>
<text x="1361" y="1253.97" font-size="27.3" text-anchor="end" letter-spacing="-0.5" class="g">200</text>
<line x1="1367.5" y1="1288.1" x2="1376.5" y2="1288.1" stroke="#151515" stroke-width="2.9"/>
<text x="1361" y="1298.77" font-size="27.3" text-anchor="end" letter-spacing="-0.5" class="g">180</text>
<line x1="1367.5" y1="1332.9" x2="1376.5" y2="1332.9" stroke="#151515" stroke-width="2.9"/>
<text x="1361" y="1343.57" font-size="27.3" text-anchor="end" letter-spacing="-0.5" class="g">160</text>
<line x1="1367.5" y1="1377.7" x2="1376.5" y2="1377.7" stroke="#151515" stroke-width="2.9"/>
<text x="1361" y="1388.37" font-size="27.3" text-anchor="end" letter-spacing="-0.5" class="g">140</text>
<line x1="1367.5" y1="1422.5" x2="1376.5" y2="1422.5" stroke="#151515" stroke-width="2.9"/>
<text x="1361" y="1433.17" font-size="27.3" text-anchor="end" letter-spacing="-0.5" class="g">120</text>
<line x1="1367.5" y1="1467.3" x2="1376.5" y2="1467.3" stroke="#151515" stroke-width="2.9"/>
<text x="1361" y="1477.97" font-size="27.3" text-anchor="end" letter-spacing="-0.5" class="g">100</text>
<line x1="1367.5" y1="1512.1" x2="1376.5" y2="1512.1" stroke="#151515" stroke-width="2.9"/>
<text x="1361" y="1522.77" font-size="27.3" text-anchor="end" letter-spacing="-0.5" class="g">80</text>
<line x1="1367.5" y1="1556.9" x2="1376.5" y2="1556.9" stroke="#151515" stroke-width="2.9"/>
<text x="1361" y="1567.57" font-size="27.3" text-anchor="end" letter-spacing="-0.5" class="g">60</text>
<line x1="1367.5" y1="1601.7" x2="1376.5" y2="1601.7" stroke="#151515" stroke-width="2.9"/>
<text x="1361" y="1612.37" font-size="27.3" text-anchor="end" letter-spacing="-0.5" class="g">40</text>
<line x1="1367.5" y1="1646.6" x2="1376.5" y2="1646.6" stroke="#151515" stroke-width="2.9"/>
<text x="1361" y="1657.27" font-size="27.3" text-anchor="end" letter-spacing="-0.5" class="g">20</text>
<text x="1357.7" y="1702.77" font-size="27.3" text-anchor="end" letter-spacing="-0.5" class="g">0</text>
<text x="1578" y="1523.5" font-size="26.7" text-anchor="middle" class="g">p&lt;0.0001</text>
<text x="1510.5" y="1726" font-size="26" text-anchor="middle" letter-spacing="0.6" class="g">TNF-a</text>
<text transform="translate(1270 1465.6) rotate(-90)" font-size="27" text-anchor="middle" class="g">sE-selectin concentration in</text>
<text transform="translate(1302.5 1465.6) rotate(-90)" font-size="27" text-anchor="middle" letter-spacing="0.35" class="g">culture medium (pg/mL)</text>
<rect x="117.95" y="1834.55" width="54.3" height="22.9" fill="#fff" stroke="#000" stroke-width="2.7" rx="1"/>
<text x="203.7" y="1859" font-size="26">Agomir-NC</text>
<rect x="116" y="1872.8" width="58.6" height="27.4" fill="#000" rx="2"/>
<text x="203.7" y="1899" font-size="26">Agomir-505</text>
<rect x="149.2" y="2201.3" width="63.3" height="143.7" fill="#fff" stroke="#000" stroke-width="2.6"/>
<path d="M243.6 2345.3V2206.6Q243.6 2204 246.2 2204H308.6Q311.2 2204 311.2 2206.6V2345.3Z" fill="#000"/>
<path d="M406.6 2095.2V2009.3H469.9V2095.2" fill="none" stroke="#000" stroke-width="2.6"/>
<line x1="406.6" y1="2131.3" x2="406.6" y2="2345.3" stroke="#000" stroke-width="2.6"/>
<line x1="469.9" y1="2131.3" x2="469.9" y2="2345.3" stroke="#000" stroke-width="2.6"/>
<path d="M500.8 2095.2V1938.9Q500.8 1936.3 503.4 1936.3H566.2Q568.8 1936.3 568.8 1938.9V2095.2Z" fill="#000"/>
<rect x="500.8" y="2131.3" width="68" height="214" fill="#000"/>
<line x1="180.8" y1="2190" x2="180.8" y2="2213" stroke="#000" stroke-width="2.6"/>
<line x1="165.3" y1="2191.1" x2="196.3" y2="2191.1" stroke="#000" stroke-width="2.6"/>
<line x1="165.3" y1="2211.9" x2="196.3" y2="2211.9" stroke="#000" stroke-width="2.6"/>
<line x1="277.4" y1="2195.8" x2="277.4" y2="2205" stroke="#000" stroke-width="2.6"/>
<line x1="261.9" y1="2196.9" x2="292.9" y2="2196.9" stroke="#000" stroke-width="2.6"/>
<line x1="438.3" y1="2007" x2="438.3" y2="2011.5" stroke="#000" stroke-width="2.6"/>
<line x1="422.8" y1="2008.1" x2="453.8" y2="2008.1" stroke="#000" stroke-width="2.6"/>
<line x1="422.8" y1="2010.4" x2="453.8" y2="2010.4" stroke="#000" stroke-width="2.6"/>
<line x1="534.8" y1="1934" x2="534.8" y2="1937" stroke="#000" stroke-width="2.6"/>
<line x1="519.3" y1="1935.1" x2="550.3" y2="1935.1" stroke="#000" stroke-width="2.6"/>
<line x1="100.2" y1="1875.55" x2="100.2" y2="2095.25" stroke="#000" stroke-width="2.9"/>
<line x1="100.2" y1="2127.45" x2="100.2" y2="2346.75" stroke="#000" stroke-width="2.9"/>
<line x1="86.2" y1="2345.3" x2="617.5" y2="2345.3" stroke="#000" stroke-width="3.3"/>
<line x1="86.2" y1="1877" x2="100.2" y2="1877" stroke="#000" stroke-width="2.5"/>
<text x="77.3" y="1887.67" font-size="27" text-anchor="end" letter-spacing="-0.5">7.0</text>
<line x1="86.2" y1="1931.5" x2="100.2" y2="1931.5" stroke="#000" stroke-width="2.5"/>
<text x="77.3" y="1942.17" font-size="27" text-anchor="end" letter-spacing="-0.5">6.5</text>
<line x1="86.2" y1="1985.8" x2="100.2" y2="1985.8" stroke="#000" stroke-width="2.5"/>
<text x="77.3" y="1996.47" font-size="27" text-anchor="end" letter-spacing="-0.5">6.0</text>
<line x1="86.2" y1="2040.2" x2="100.2" y2="2040.2" stroke="#000" stroke-width="2.5"/>
<text x="77.3" y="2050.87" font-size="27" text-anchor="end" letter-spacing="-0.5">5.5</text>
<line x1="86.2" y1="2093.8" x2="113.2" y2="2093.8" stroke="#000" stroke-width="2.5"/>
<text x="77.3" y="2104.47" font-size="27" text-anchor="end" letter-spacing="-0.5">5.0</text>
<line x1="86.2" y1="2128.9" x2="113.2" y2="2128.9" stroke="#000" stroke-width="2.5"/>
<text x="77.3" y="2139.57" font-size="27" text-anchor="end" letter-spacing="-0.5">1.5</text>
<line x1="86.2" y1="2201.3" x2="100.2" y2="2201.3" stroke="#000" stroke-width="2.5"/>
<text x="77.3" y="2211.97" font-size="27" text-anchor="end" letter-spacing="-0.5">1.0</text>
<line x1="86.2" y1="2273.2" x2="100.2" y2="2273.2" stroke="#000" stroke-width="2.5"/>
<text x="77.3" y="2283.87" font-size="27" text-anchor="end" letter-spacing="-0.5">0.5</text>
<text x="77.3" y="2355.97" font-size="27" text-anchor="end" letter-spacing="-0.5">0.0</text>
<line x1="228.5" y1="2345.3" x2="228.5" y2="2356.8" stroke="#000" stroke-width="2.9"/>
<line x1="486" y1="2345.3" x2="486" y2="2356.8" stroke="#000" stroke-width="2.9"/>
<text x="237" y="2165.4" font-size="26.7" text-anchor="middle">p=0.8063</text>
<line x1="179.6" y1="2177.4" x2="279.5" y2="2177.4" stroke="#000" stroke-width="2.6"/>
<text x="494" y="1905.4" font-size="26.7" text-anchor="middle">p=0.0020</text>
<line x1="436" y1="1917.4" x2="535.7" y2="1917.4" stroke="#000" stroke-width="2.6"/>
<text x="223.7" y="2392.6" font-size="26" text-anchor="middle">VC</text>
<text x="482.5" y="2392.6" font-size="26" text-anchor="middle" letter-spacing="0.9">TNF-a</text>
<text transform="translate(29 2138.8) rotate(-90)" font-size="27" text-anchor="middle">Relative adhesion</text>
<rect x="805.95" y="1833.85" width="53.7" height="22.9" fill="#fff" stroke="#000" stroke-width="2.7" rx="1"/>
<text x="876.5" y="1858" font-size="26">Antagomir-NC</text>
<rect x="804" y="1876" width="57.5" height="26" fill="#000" rx="2"/>
<text x="876.5" y="1902" font-size="26">Antagomir-505</text>
<rect x="837.6" y="2201.3" width="63.4" height="143.7" fill="#fff" stroke="#000" stroke-width="2.6"/>
<path d="M932.5 2345.3V2204.6Q932.5 2202 935.1 2202H997.6Q1000.2 2202 1000.2 2204.6V2345.3Z" fill="#000"/>
<path d="M1095.8 2095.2V1951.9H1159.6V2095.2" fill="none" stroke="#000" stroke-width="2.6"/>
<line x1="1095.8" y1="2131.3" x2="1095.8" y2="2345.3" stroke="#000" stroke-width="2.6"/>
<line x1="1159.6" y1="2131.3" x2="1159.6" y2="2345.3" stroke="#000" stroke-width="2.6"/>
<path d="M1190.3 2095.2V2038.4Q1190.3 2035.8 1192.9 2035.8H1255.8Q1258.4 2035.8 1258.4 2038.4V2095.2Z" fill="#000"/>
<rect x="1190.3" y="2131.3" width="68.1" height="214" fill="#000"/>
<line x1="869.3" y1="2190" x2="869.3" y2="2213" stroke="#000" stroke-width="2.6"/>
<line x1="853.8" y1="2191.1" x2="884.8" y2="2191.1" stroke="#000" stroke-width="2.6"/>
<line x1="853.8" y1="2211.9" x2="884.8" y2="2211.9" stroke="#000" stroke-width="2.6"/>
<line x1="966.3" y1="2190" x2="966.3" y2="2203" stroke="#000" stroke-width="2.6"/>
<line x1="950.8" y1="2191.1" x2="981.8" y2="2191.1" stroke="#000" stroke-width="2.6"/>
<line x1="1127.7" y1="1936.3" x2="1127.7" y2="1966.4" stroke="#000" stroke-width="2.6"/>
<line x1="1112.2" y1="1937.4" x2="1143.2" y2="1937.4" stroke="#000" stroke-width="2.6"/>
<line x1="1112.2" y1="1965.3" x2="1143.2" y2="1965.3" stroke="#000" stroke-width="2.6"/>
<line x1="1224.3" y1="2022.5" x2="1224.3" y2="2037" stroke="#000" stroke-width="2.6"/>
<line x1="1208.8" y1="2023.6" x2="1239.8" y2="2023.6" stroke="#000" stroke-width="2.6"/>
<line x1="788.3" y1="1875.55" x2="788.3" y2="2095.25" stroke="#000" stroke-width="2.9"/>
<line x1="788.3" y1="2127.45" x2="788.3" y2="2346.75" stroke="#000" stroke-width="2.9"/>
<line x1="774.3" y1="2345.3" x2="1307.4" y2="2345.3" stroke="#000" stroke-width="3.3"/>
<line x1="774.3" y1="1877" x2="788.3" y2="1877" stroke="#000" stroke-width="2.5"/>
<text x="763.1" y="1887.67" font-size="27" text-anchor="end" letter-spacing="-0.5">10.0</text>
<line x1="774.3" y1="1949.6" x2="788.3" y2="1949.6" stroke="#000" stroke-width="2.5"/>
<text x="763.1" y="1960.27" font-size="27" text-anchor="end" letter-spacing="-0.5">9.0</text>
<line x1="774.3" y1="2021.9" x2="788.3" y2="2021.9" stroke="#000" stroke-width="2.5"/>
<text x="763.1" y="2032.57" font-size="27" text-anchor="end" letter-spacing="-0.5">8.0</text>
<line x1="774.3" y1="2093.8" x2="801.3" y2="2093.8" stroke="#000" stroke-width="2.5"/>
<text x="763.1" y="2104.47" font-size="27" text-anchor="end" letter-spacing="-0.5">7.0</text>
<line x1="774.3" y1="2128.9" x2="801.3" y2="2128.9" stroke="#000" stroke-width="2.5"/>
<text x="761.5" y="2139.57" font-size="27" text-anchor="end" letter-spacing="-0.5">1.5</text>
<line x1="774.3" y1="2201.3" x2="788.3" y2="2201.3" stroke="#000" stroke-width="2.5"/>
<text x="761.5" y="2211.97" font-size="27" text-anchor="end" letter-spacing="-0.5">1.0</text>
<line x1="774.3" y1="2273.2" x2="788.3" y2="2273.2" stroke="#000" stroke-width="2.5"/>
<text x="761.5" y="2283.87" font-size="27" text-anchor="end" letter-spacing="-0.5">0.5</text>
<text x="761.5" y="2355.97" font-size="27" text-anchor="end" letter-spacing="-0.5">0.0</text>
<line x1="917" y1="2345.3" x2="917" y2="2356.8" stroke="#000" stroke-width="2.9"/>
<line x1="1175.2" y1="2345.3" x2="1175.2" y2="2356.8" stroke="#000" stroke-width="2.9"/>
<text x="922" y="2163.6" font-size="26.7" text-anchor="middle">p=0.9545</text>
<line x1="868.5" y1="2177" x2="967.5" y2="2177" stroke="#000" stroke-width="2.6"/>
<text x="1178.4" y="1907.5" font-size="26.7" text-anchor="middle">p=0.0021</text>
<line x1="1125" y1="1925" x2="1224.6" y2="1925" stroke="#000" stroke-width="2.6"/>
<text x="912.5" y="2392.6" font-size="26" text-anchor="middle">VC</text>
<text x="1172" y="2392.6" font-size="26" text-anchor="middle" letter-spacing="0.9">TNF-a</text>
<text transform="translate(711 2138.8) rotate(-90)" font-size="27" text-anchor="middle">Relative adhesion</text>
</svg>
</body></html>
